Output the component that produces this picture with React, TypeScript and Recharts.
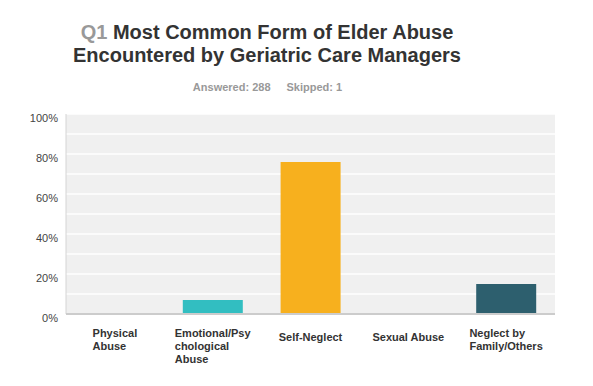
import React from "react";
import { BarChart, Bar, XAxis, YAxis, CartesianGrid, Cell } from "recharts";

const categories = [
  "Physical Abuse",
  "Emotional/Psychological Abuse",
  "Self-Neglect",
  "Sexual Abuse",
  "Neglect by Family/Others",
];
// how the survey tool wraps each label
const tickLines = [
  ["Physical", "Abuse"],
  ["Emotional/Psy", "chological", "Abuse"],
  ["Self-Neglect"],
  ["Sexual Abuse"],
  ["Neglect by", "Family/Others"],
];
const percents = [0, 7, 76, 0, 15];
const barColors = ["#32bec1", "#32bec1", "#f7b01e", "#2d5f6e", "#2d5f6e"];
const yTicks = [0, 10, 20, 30, 40, 50, 60, 70, 80, 90, 100];

const data = categories.map((name, i) => ({ name, value: percents[i] }));

const FONT = "'Liberation Sans', Arial, sans-serif";

const CategoryTick = (props: any) => {
  const { x, y, payload } = props;
  const lines = tickLines[payload.index] || [payload.value];
  return (
    <foreignObject x={x - 50} y={y + 5} width={100} height={50}>
      <div style={{ textAlign: "center" }}>
        <div
          style={{
            display: "inline-block",
            textAlign: "left",
            fontFamily: FONT,
            fontWeight: "bold",
            fontSize: 11,
            lineHeight: "13px",
            color: "#333",
          }}
        >
          {lines.map((l, i) => (
            <div key={i}>{l}</div>
          ))}
        </div>
      </div>
    </foreignObject>
  );
};

export default function App() {
  return (
    <div
      style={{
        position: "absolute",
        left: 0,
        top: 0,
        width: 593,
        height: 386,
        background: "#fff",
        fontFamily: FONT,
      }}
    >
      <div
        style={{
          position: "absolute",
          left: 0,
          top: 21,
          width: 534,
          textAlign: "center",
          fontSize: 20,
          lineHeight: "23px",
          fontWeight: "bold",
          color: "#333",
        }}
      >
        <span style={{ color: "#999" }}>Q1</span> Most Common Form of Elder Abuse
        <br />
        Encountered by Geriatric Care Managers
      </div>
      <div
        style={{
          position: "absolute",
          left: 0,
          top: 81,
          width: 535,
          textAlign: "center",
          fontSize: 11,
          lineHeight: "13px",
          fontWeight: "bold",
          color: "#999",
        }}
      >
        Answered: 288<span style={{ display: "inline-block", width: 16 }} />
        Skipped: 1
      </div>
      <BarChart
        width={593}
        height={386}
        data={data}
        margin={{ top: 114, right: 38, bottom: 0, left: 0 }}
        barSize={60}
      >
        <CartesianGrid
          vertical={false}
          fill="#f0f0f0"
          stroke="#ffffff"
          strokeWidth={1.5}
        />
        <YAxis
          width={66}
          domain={[0, 100]}
          ticks={yTicks}
          interval={0}
          axisLine={{ stroke: "#d4d4d4" }}
          tickLine={false}
          tickFormatter={(v: number) => (v % 20 === 0 ? `${v}%` : "")}
          tick={{ fill: "#444", fontSize: 11, fontFamily: FONT, dy: 4 }}
        />
        <XAxis
          dataKey="name"
          height={72}
          interval={0}
          axisLine={{ stroke: "#cccccc", strokeWidth: 2 }}
          tickLine={false}
          tick={<CategoryTick />}
        />
        <Bar dataKey="value" isAnimationActive={false}>
          {data.map((d, i) => (
            <Cell key={d.name} fill={barColors[i]} />
          ))}
        </Bar>
      </BarChart>
    </div>
  );
}
